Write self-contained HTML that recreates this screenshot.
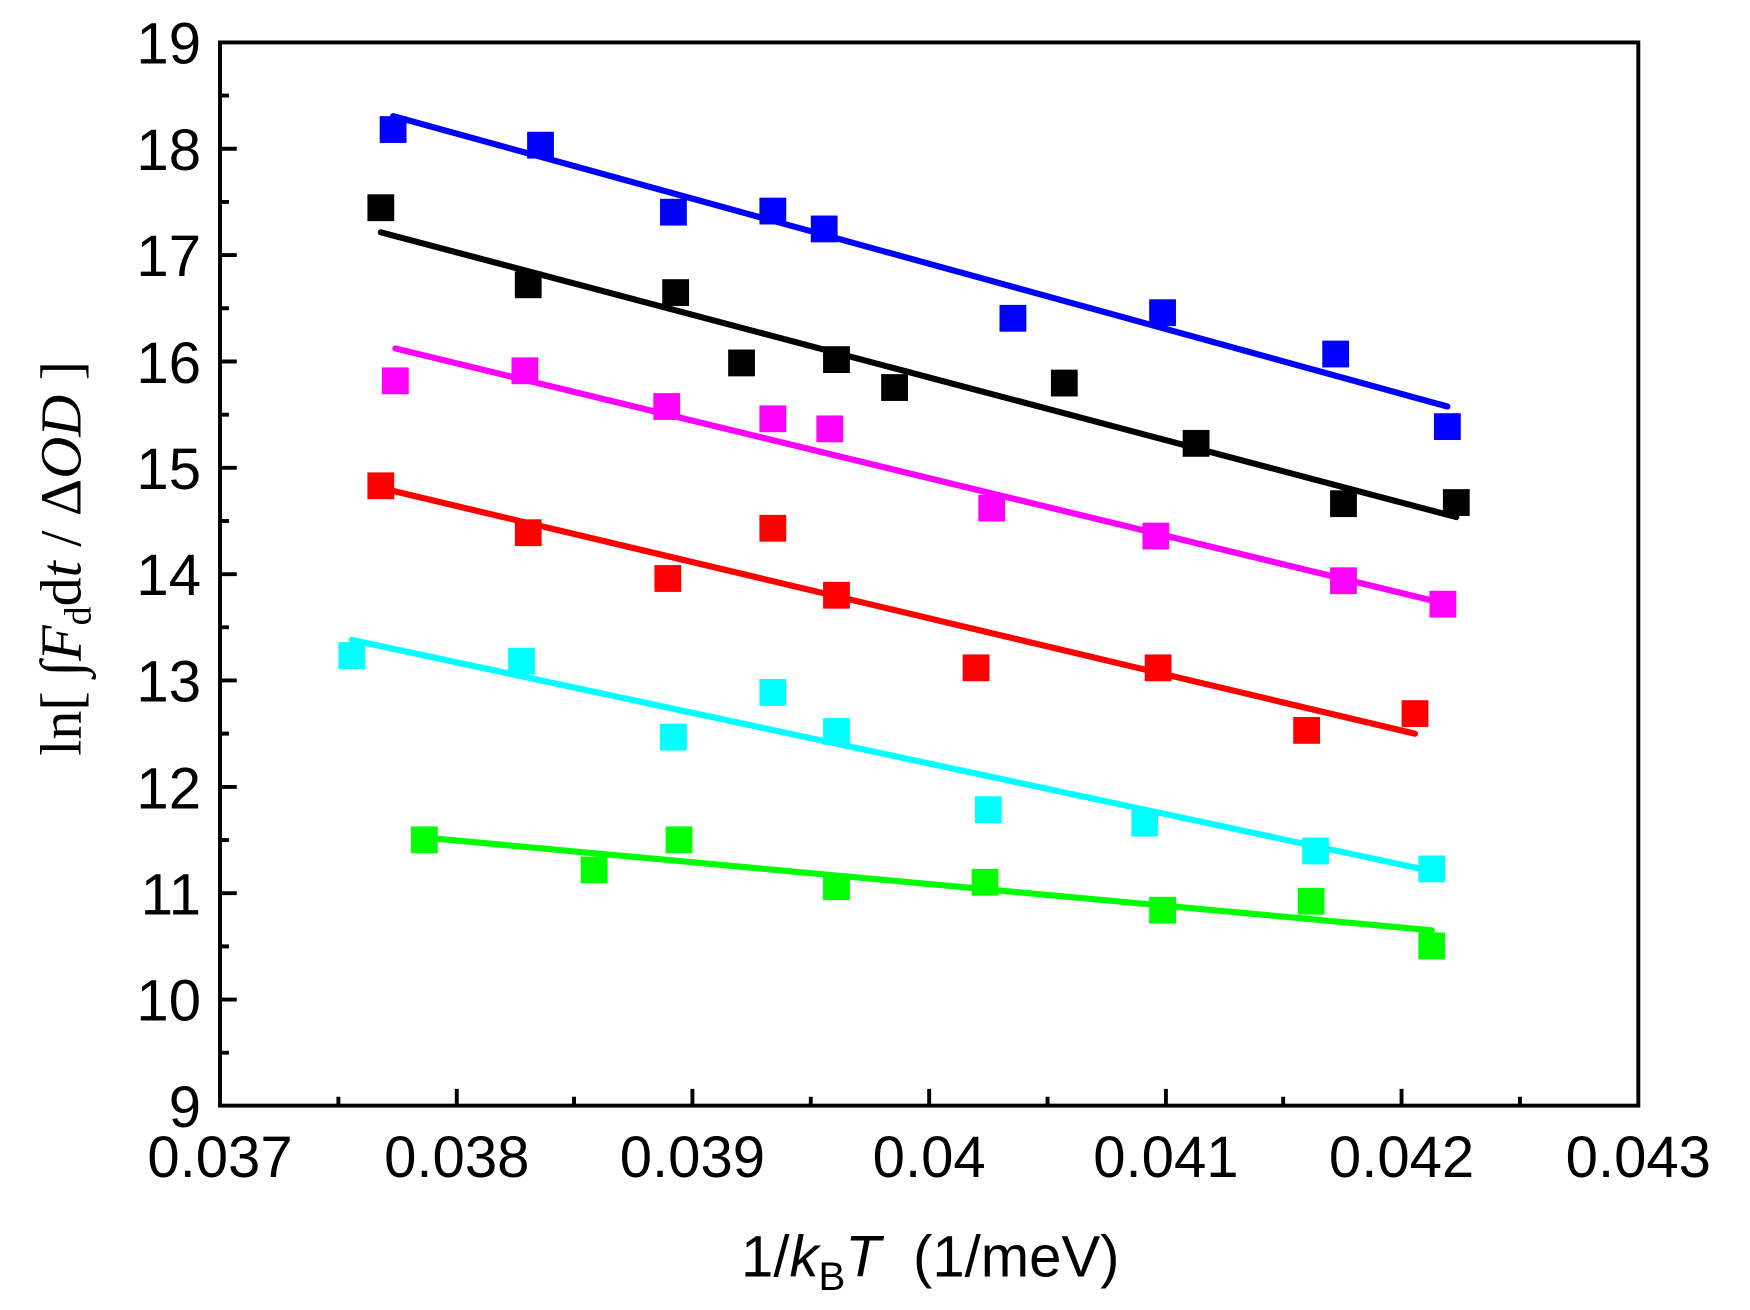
<!DOCTYPE html>
<html><head><style>html,body{margin:0;padding:0;background:#fff;}svg{display:block}</style></head>
<body>
<svg width="1750" height="1310" viewBox="0 0 1567 1173" preserveAspectRatio="none" xmlns="http://www.w3.org/2000/svg" font-family="Liberation Sans, sans-serif">
<rect width="1567" height="1173" fill="#fff"/>
<g stroke="#000" stroke-width="3.5">
<rect x="197" y="38" width="1270" height="952" fill="none"/>
<path d="M197 133.2h15M197 228.4h15M197 323.7h15M197 418.9h15M197 514.1h15M197 609.3h15M197 704.6h15M197 799.8h15M197 895h15"/>
<path d="M197 85.6h8M197 180.8h8M197 276h8M197 371.3h8M197 466.5h8M197 561.7h8M197 656.9h8M197 752.2h8M197 847.4h8M197 942.6h8"/>
<path d="M409 990v-15M620 990v-15M832 990v-15M1044 990v-15M1255 990v-15"/>
<path d="M303 990v-8M514 990v-8M726 990v-8M938 990v-8M1149 990v-8M1361 990v-8"/>
</g>
<g font-size="52" text-anchor="end" fill="#000">
<text x="180" y="57">19</text><text x="180" y="152">18</text><text x="180" y="247">17</text><text x="180" y="343">16</text><text x="180" y="438">15</text><text x="180" y="533">14</text><text x="180" y="628">13</text><text x="180" y="724">12</text><text x="180" y="819">11</text><text x="180" y="914">10</text><text x="180" y="1009">9</text>
</g>
<g font-size="52" text-anchor="middle" fill="#000">
<text x="197" y="1054">0.037</text><text x="409" y="1054">0.038</text><text x="620" y="1054">0.039</text><text x="832" y="1054">0.04</text><text x="1044" y="1054">0.041</text><text x="1255" y="1054">0.042</text><text x="1467" y="1054">0.043</text>
</g>
<text x="833" y="1143" font-size="52" text-anchor="middle">1/<tspan font-style="italic">k</tspan><tspan font-size="36" dy="12">B</tspan><tspan font-style="italic" dy="-12">T</tspan>&#160;&#160;(1/meV)</text>
<text transform="translate(72,500) rotate(-90)" font-family="Liberation Serif, serif" font-size="52" text-anchor="middle">ln[ ∫<tspan font-style="italic">F</tspan><tspan font-size="34" dy="9">d</tspan><tspan dy="-9">d</tspan><tspan font-style="italic">t</tspan> / Δ<tspan font-style="italic">OD</tspan> ]</text>
<g stroke-width="5.5" stroke-linecap="round" fill="none">
<line x1="352" y1="104" x2="1296" y2="364" stroke="#0000ff"/>
<line x1="341" y1="208" x2="1304" y2="463" stroke="#000"/>
<line x1="354" y1="312" x2="1292" y2="540" stroke="#ff00ff"/>
<line x1="341" y1="437" x2="1267" y2="657" stroke="#ff0000"/>
<line x1="315" y1="573" x2="1282" y2="780" stroke="#00ffff"/>
<line x1="380" y1="750" x2="1282" y2="833" stroke="#00ff00"/>
</g>
<g fill="#0000ff">
<rect x="340" y="104" width="24" height="24"/><rect x="472" y="118" width="24" height="24"/><rect x="591" y="178" width="24" height="24"/><rect x="680" y="177" width="24" height="24"/><rect x="726" y="193" width="24" height="24"/><rect x="895" y="273" width="24" height="24"/><rect x="1029" y="268" width="24" height="24"/><rect x="1184" y="305" width="24" height="24"/><rect x="1284" y="370" width="24" height="24"/>
</g>
<g fill="#000">
<rect x="329" y="174" width="24" height="24"/><rect x="461" y="243" width="24" height="24"/><rect x="593" y="250" width="24" height="24"/><rect x="652" y="313" width="24" height="24"/><rect x="737" y="310" width="24" height="24"/><rect x="789" y="335" width="24" height="24"/><rect x="941" y="331" width="24" height="24"/><rect x="1059" y="385" width="24" height="24"/><rect x="1191" y="439" width="24" height="24"/><rect x="1292" y="438" width="24" height="24"/>
</g>
<g fill="#ff00ff">
<rect x="342" y="329" width="24" height="24"/><rect x="458" y="320" width="24" height="24"/><rect x="585" y="352" width="24" height="24"/><rect x="680" y="363" width="24" height="24"/><rect x="731" y="372" width="24" height="24"/><rect x="876" y="443" width="24" height="24"/><rect x="1023" y="468" width="24" height="24"/><rect x="1191" y="508" width="24" height="24"/><rect x="1280" y="529" width="24" height="24"/>
</g>
<g fill="#ff0000">
<rect x="329" y="423" width="24" height="24"/><rect x="461" y="465" width="24" height="24"/><rect x="586" y="506" width="24" height="24"/><rect x="680" y="461" width="24" height="24"/><rect x="737" y="521" width="24" height="24"/><rect x="862" y="586" width="24" height="24"/><rect x="1025" y="586" width="24" height="24"/><rect x="1158" y="642" width="24" height="24"/><rect x="1255" y="627" width="24" height="24"/>
</g>
<g fill="#00ffff">
<rect x="303" y="575" width="24" height="24"/><rect x="455" y="580" width="24" height="24"/><rect x="591" y="648" width="24" height="24"/><rect x="680" y="608" width="24" height="24"/><rect x="737" y="643" width="24" height="24"/><rect x="873" y="713" width="24" height="24"/><rect x="1013" y="725" width="24" height="24"/><rect x="1166" y="750" width="24" height="24"/><rect x="1270" y="766" width="24" height="24"/>
</g>
<g fill="#00ff00">
<rect x="368" y="740" width="24" height="24"/><rect x="520" y="767" width="24" height="24"/><rect x="596" y="740" width="24" height="24"/><rect x="737" y="782" width="24" height="24"/><rect x="870" y="778" width="24" height="24"/><rect x="1029" y="803" width="24" height="24"/><rect x="1162" y="795" width="24" height="24"/><rect x="1270" y="835" width="24" height="24"/>
</g>
</svg>
</body></html>
